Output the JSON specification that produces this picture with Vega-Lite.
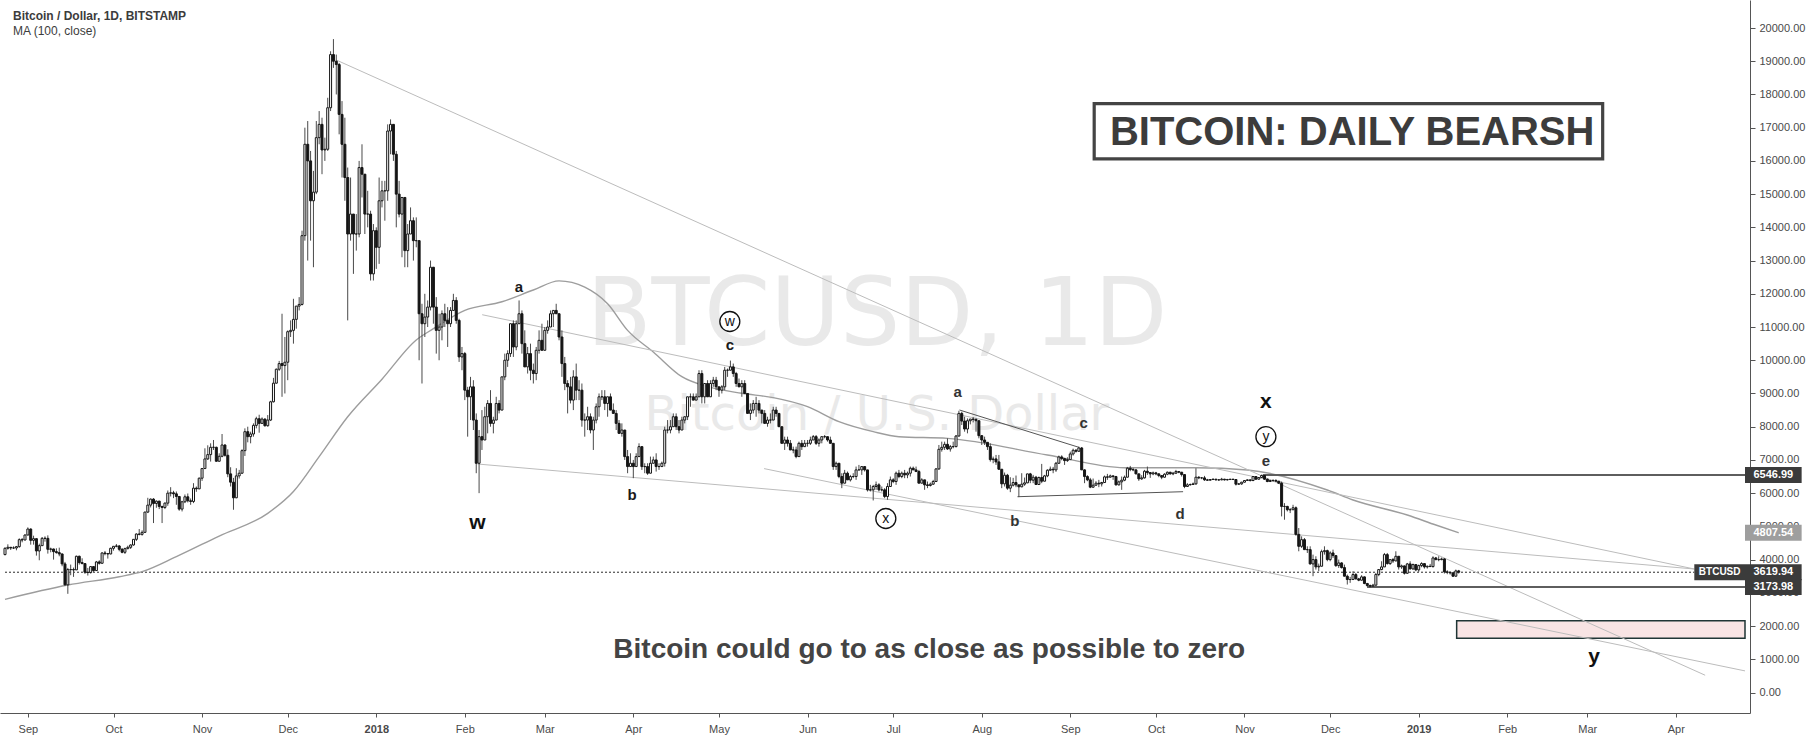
{
"$schema":"https://vega.github.io/schema/vega-lite/v6.json",
"width":1750,"height":713,
"autosize":{"type":"none"},
"padding":{"left":0,"top":0,"right":64,"bottom":26},
"background":"#ffffff",
"config":{"view":{"stroke":null},"font":"Liberation Sans",
 "axis":{"labelFont":"Liberation Sans","grid":false,"labelOverlap":false,"labelFlush":false,"domainColor":"#555555","tickColor":"#555555","labelColor":"#4a4a4a","labelFontSize":11},
 "axisX":{"tickSize":4,"labelPadding":6,"tickCount":"month","labelFontWeight":{"condition":{"test":"utcmonth(datum.value)==0","value":"bold"},"value":"normal"}},
 "axisY":{"tickSize":5,"labelPadding":4,"tickCount":21}},
"datasets":{
"candles":[
{"t":"2017-08-24","o":4150,"h":4370,"l":4130,"c":4340},
{"t":"2017-08-25","o":4340,"h":4460,"l":4300,"c":4370},
{"t":"2017-08-26","o":4370,"h":4380,"l":4290,"c":4350},
{"t":"2017-08-27","o":4350,"h":4400,"l":4320,"c":4350},
{"t":"2017-08-28","o":4350,"h":4410,"l":4280,"c":4390},
{"t":"2017-08-29","o":4390,"h":4640,"l":4360,"c":4600},
{"t":"2017-08-30","o":4600,"h":4650,"l":4520,"c":4590},
{"t":"2017-08-31","o":4590,"h":4760,"l":4580,"c":4740},
{"t":"2017-09-01","o":4740,"h":4970,"l":4730,"c":4920},
{"t":"2017-09-02","o":4920,"h":4940,"l":4450,"c":4580},
{"t":"2017-09-03","o":4580,"h":4720,"l":4450,"c":4630},
{"t":"2017-09-04","o":4630,"h":4630,"l":4120,"c":4260},
{"t":"2017-09-05","o":4260,"h":4480,"l":3980,"c":4420},
{"t":"2017-09-06","o":4420,"h":4680,"l":4420,"c":4640},
{"t":"2017-09-07","o":4640,"h":4700,"l":4540,"c":4640},
{"t":"2017-09-08","o":4640,"h":4730,"l":4180,"c":4310},
{"t":"2017-09-09","o":4310,"h":4360,"l":4220,"c":4320},
{"t":"2017-09-10","o":4320,"h":4330,"l":4000,"c":4240},
{"t":"2017-09-11","o":4240,"h":4340,"l":4180,"c":4210},
{"t":"2017-09-12","o":4210,"h":4360,"l":4100,"c":4170},
{"t":"2017-09-13","o":4170,"h":4180,"l":3800,"c":3870},
{"t":"2017-09-14","o":3870,"h":3930,"l":3220,"c":3240},
{"t":"2017-09-15","o":3240,"h":3750,"l":2970,"c":3700},
{"t":"2017-09-16","o":3700,"h":3850,"l":3530,"c":3700},
{"t":"2017-09-17","o":3700,"h":3760,"l":3480,"c":3690},
{"t":"2017-09-18","o":3690,"h":4120,"l":3690,"c":4100},
{"t":"2017-09-19","o":4100,"h":4120,"l":3850,"c":3910},
{"t":"2017-09-20","o":3910,"h":4040,"l":3860,"c":3880},
{"t":"2017-09-21","o":3880,"h":3890,"l":3570,"c":3620},
{"t":"2017-09-22","o":3620,"h":3750,"l":3520,"c":3610},
{"t":"2017-09-23","o":3610,"h":3800,"l":3580,"c":3790},
{"t":"2017-09-24","o":3790,"h":3800,"l":3630,"c":3670},
{"t":"2017-09-25","o":3670,"h":3960,"l":3660,"c":3930},
{"t":"2017-09-26","o":3930,"h":3980,"l":3850,"c":3890},
{"t":"2017-09-27","o":3890,"h":4220,"l":3880,"c":4200},
{"t":"2017-09-28","o":4200,"h":4260,"l":4130,"c":4180},
{"t":"2017-09-29","o":4180,"h":4200,"l":4030,"c":4170},
{"t":"2017-09-30","o":4170,"h":4360,"l":4160,"c":4340},
{"t":"2017-10-01","o":4340,"h":4410,"l":4270,"c":4400},
{"t":"2017-10-02","o":4400,"h":4470,"l":4370,"c":4410},
{"t":"2017-10-03","o":4410,"h":4440,"l":4250,"c":4310},
{"t":"2017-10-04","o":4310,"h":4350,"l":4190,"c":4220},
{"t":"2017-10-05","o":4220,"h":4360,"l":4170,"c":4330},
{"t":"2017-10-06","o":4330,"h":4420,"l":4310,"c":4370},
{"t":"2017-10-07","o":4370,"h":4460,"l":4320,"c":4440},
{"t":"2017-10-08","o":4440,"h":4620,"l":4420,"c":4610},
{"t":"2017-10-09","o":4610,"h":4790,"l":4560,"c":4770},
{"t":"2017-10-10","o":4770,"h":4920,"l":4730,"c":4760},
{"t":"2017-10-11","o":4760,"h":4880,"l":4720,"c":4820},
{"t":"2017-10-12","o":4820,"h":5440,"l":4810,"c":5430},
{"t":"2017-10-13","o":5430,"h":5860,"l":5400,"c":5640},
{"t":"2017-10-14","o":5640,"h":5840,"l":5570,"c":5820},
{"t":"2017-10-15","o":5820,"h":5850,"l":5100,"c":5690},
{"t":"2017-10-16","o":5690,"h":5780,"l":5560,"c":5760},
{"t":"2017-10-17","o":5760,"h":5770,"l":5520,"c":5600},
{"t":"2017-10-18","o":5600,"h":5620,"l":5100,"c":5570},
{"t":"2017-10-19","o":5570,"h":5720,"l":5520,"c":5700},
{"t":"2017-10-20","o":5700,"h":6080,"l":5620,"c":6000},
{"t":"2017-10-21","o":6000,"h":6180,"l":5900,"c":6010},
{"t":"2017-10-22","o":6010,"h":6070,"l":5850,"c":5980},
{"t":"2017-10-23","o":5980,"h":6050,"l":5650,"c":5900},
{"t":"2017-10-24","o":5900,"h":5910,"l":5470,"c":5520},
{"t":"2017-10-25","o":5520,"h":5770,"l":5450,"c":5740},
{"t":"2017-10-26","o":5740,"h":5960,"l":5700,"c":5890},
{"t":"2017-10-27","o":5890,"h":5990,"l":5720,"c":5770},
{"t":"2017-10-28","o":5770,"h":5840,"l":5650,"c":5750},
{"t":"2017-10-29","o":5750,"h":6300,"l":5700,"c":6150},
{"t":"2017-10-30","o":6150,"h":6200,"l":6040,"c":6130},
{"t":"2017-10-31","o":6130,"h":6470,"l":6120,"c":6450},
{"t":"2017-11-01","o":6450,"h":6750,"l":6370,"c":6740},
{"t":"2017-11-02","o":6740,"h":7350,"l":6740,"c":7030},
{"t":"2017-11-03","o":7030,"h":7440,"l":7000,"c":7160},
{"t":"2017-11-04","o":7160,"h":7500,"l":6950,"c":7380},
{"t":"2017-11-05","o":7380,"h":7600,"l":7300,"c":7380},
{"t":"2017-11-06","o":7380,"h":7400,"l":6950,"c":6960},
{"t":"2017-11-07","o":6960,"h":7200,"l":6950,"c":7110},
{"t":"2017-11-08","o":7110,"h":7780,"l":7080,"c":7450},
{"t":"2017-11-09","o":7450,"h":7470,"l":7100,"c":7140},
{"t":"2017-11-10","o":7140,"h":7320,"l":6480,"c":6580},
{"t":"2017-11-11","o":6580,"h":6780,"l":6200,"c":6330},
{"t":"2017-11-12","o":6330,"h":6460,"l":5500,"c":5860},
{"t":"2017-11-13","o":5860,"h":6750,"l":5850,"c":6520},
{"t":"2017-11-14","o":6520,"h":6700,"l":6440,"c":6600},
{"t":"2017-11-15","o":6600,"h":7320,"l":6590,"c":7280},
{"t":"2017-11-16","o":7280,"h":7950,"l":7120,"c":7850},
{"t":"2017-11-17","o":7850,"h":8000,"l":7530,"c":7700},
{"t":"2017-11-18","o":7700,"h":7850,"l":7500,"c":7780},
{"t":"2017-11-19","o":7780,"h":8100,"l":7700,"c":8040},
{"t":"2017-11-20","o":8040,"h":8300,"l":7950,"c":8240},
{"t":"2017-11-21","o":8240,"h":8360,"l":7820,"c":8100},
{"t":"2017-11-22","o":8100,"h":8280,"l":8090,"c":8230},
{"t":"2017-11-23","o":8230,"h":8250,"l":8000,"c":8030},
{"t":"2017-11-24","o":8030,"h":8350,"l":8000,"c":8200},
{"t":"2017-11-25","o":8200,"h":8780,"l":8170,"c":8750},
{"t":"2017-11-26","o":8750,"h":9470,"l":8730,"c":9310},
{"t":"2017-11-27","o":9310,"h":9750,"l":9300,"c":9730},
{"t":"2017-11-28","o":9730,"h":9980,"l":9680,"c":9900},
{"t":"2017-11-29","o":9900,"h":11400,"l":8900,"c":9840},
{"t":"2017-11-30","o":9840,"h":10700,"l":9000,"c":9940},
{"t":"2017-12-01","o":9940,"h":10900,"l":9400,"c":10860},
{"t":"2017-12-02","o":10860,"h":11200,"l":10700,"c":10900},
{"t":"2017-12-03","o":10900,"h":11850,"l":10500,"c":11230},
{"t":"2017-12-04","o":11230,"h":11600,"l":10950,"c":11630},
{"t":"2017-12-05","o":11630,"h":11900,"l":11500,"c":11680},
{"t":"2017-12-06","o":11680,"h":13900,"l":11650,"c":13750},
{"t":"2017-12-07","o":13750,"h":17000,"l":13600,"c":16500},
{"t":"2017-12-08","o":16500,"h":17200,"l":13000,"c":16000},
{"t":"2017-12-09","o":16000,"h":16300,"l":13600,"c":14800},
{"t":"2017-12-10","o":14800,"h":15700,"l":12800,"c":15060},
{"t":"2017-12-11","o":15060,"h":17200,"l":15000,"c":16700},
{"t":"2017-12-12","o":16700,"h":17500,"l":16500,"c":17100},
{"t":"2017-12-13","o":17100,"h":17300,"l":15600,"c":16330},
{"t":"2017-12-14","o":16330,"h":16700,"l":16000,"c":16350},
{"t":"2017-12-15","o":16350,"h":17900,"l":16300,"c":17600},
{"t":"2017-12-16","o":17600,"h":19300,"l":17500,"c":19200},
{"t":"2017-12-17","o":19200,"h":19666,"l":18800,"c":19000},
{"t":"2017-12-18","o":19000,"h":19200,"l":18000,"c":18900},
{"t":"2017-12-19","o":18900,"h":18950,"l":16800,"c":17400},
{"t":"2017-12-20","o":17400,"h":17800,"l":15500,"c":16500},
{"t":"2017-12-21","o":16500,"h":17300,"l":14800,"c":15500},
{"t":"2017-12-22","o":15500,"h":15800,"l":11200,"c":13800},
{"t":"2017-12-23","o":13800,"h":15500,"l":13600,"c":14400},
{"t":"2017-12-24","o":14400,"h":14400,"l":12600,"c":13800},
{"t":"2017-12-25","o":13800,"h":14400,"l":13300,"c":13800},
{"t":"2017-12-26","o":13800,"h":16000,"l":13700,"c":15800},
{"t":"2017-12-27","o":15800,"h":16500,"l":14900,"c":15600},
{"t":"2017-12-28","o":15600,"h":15600,"l":13800,"c":14400},
{"t":"2017-12-29","o":14400,"h":15100,"l":14000,"c":14400},
{"t":"2017-12-30","o":14400,"h":14500,"l":12400,"c":12600},
{"t":"2017-12-31","o":12600,"h":14100,"l":12400,"c":13900},
{"t":"2018-01-01","o":13900,"h":14000,"l":12750,"c":13400},
{"t":"2018-01-02","o":13400,"h":15500,"l":12900,"c":14800},
{"t":"2018-01-03","o":14800,"h":15400,"l":14600,"c":15100},
{"t":"2018-01-04","o":15100,"h":15400,"l":14200,"c":15100},
{"t":"2018-01-05","o":15100,"h":17100,"l":14800,"c":16900},
{"t":"2018-01-06","o":16900,"h":17250,"l":16200,"c":17100},
{"t":"2018-01-07","o":17100,"h":17100,"l":16000,"c":16200},
{"t":"2018-01-08","o":16200,"h":16300,"l":14000,"c":15000},
{"t":"2018-01-09","o":15000,"h":15400,"l":14300,"c":14400},
{"t":"2018-01-10","o":14400,"h":14900,"l":13100,"c":14900},
{"t":"2018-01-11","o":14900,"h":14900,"l":12800,"c":13300},
{"t":"2018-01-12","o":13300,"h":14100,"l":12800,"c":13800},
{"t":"2018-01-13","o":13800,"h":14600,"l":13800,"c":14200},
{"t":"2018-01-14","o":14200,"h":14300,"l":13000,"c":13600},
{"t":"2018-01-15","o":13600,"h":14300,"l":13400,"c":13600},
{"t":"2018-01-16","o":13600,"h":13600,"l":10000,"c":11400},
{"t":"2018-01-17","o":11400,"h":11700,"l":9300,"c":11100},
{"t":"2018-01-18","o":11100,"h":12000,"l":10700,"c":11300},
{"t":"2018-01-19","o":11300,"h":11800,"l":11000,"c":11600},
{"t":"2018-01-20","o":11600,"h":13000,"l":11500,"c":12800},
{"t":"2018-01-21","o":12800,"h":12800,"l":11100,"c":11600},
{"t":"2018-01-22","o":11600,"h":11900,"l":10200,"c":10900},
{"t":"2018-01-23","o":10900,"h":11400,"l":10000,"c":11000},
{"t":"2018-01-24","o":11000,"h":11500,"l":10600,"c":11400},
{"t":"2018-01-25","o":11400,"h":11700,"l":11000,"c":11200},
{"t":"2018-01-26","o":11200,"h":11600,"l":10400,"c":11100},
{"t":"2018-01-27","o":11100,"h":11600,"l":11000,"c":11500},
{"t":"2018-01-28","o":11500,"h":12000,"l":11500,"c":11800},
{"t":"2018-01-29","o":11800,"h":11900,"l":11100,"c":11200},
{"t":"2018-01-30","o":11200,"h":11250,"l":9950,"c":10100},
{"t":"2018-01-31","o":10100,"h":10400,"l":9700,"c":10200},
{"t":"2018-02-01","o":10200,"h":10250,"l":8800,"c":9100},
{"t":"2018-02-02","o":9100,"h":9200,"l":7700,"c":8900},
{"t":"2018-02-03","o":8900,"h":9500,"l":8200,"c":9200},
{"t":"2018-02-04","o":9200,"h":9400,"l":7900,"c":8200},
{"t":"2018-02-05","o":8200,"h":8400,"l":6600,"c":6900},
{"t":"2018-02-06","o":6900,"h":7900,"l":6000,"c":7700},
{"t":"2018-02-07","o":7700,"h":8500,"l":7300,"c":7600},
{"t":"2018-02-08","o":7600,"h":8600,"l":7600,"c":8300},
{"t":"2018-02-09","o":8300,"h":8800,"l":7800,"c":8700},
{"t":"2018-02-10","o":8700,"h":9100,"l":8000,"c":8100},
{"t":"2018-02-11","o":8100,"h":8300,"l":7800,"c":8200},
{"t":"2018-02-12","o":8200,"h":8900,"l":8200,"c":8700},
{"t":"2018-02-13","o":8700,"h":8800,"l":8400,"c":8500},
{"t":"2018-02-14","o":8500,"h":9500,"l":8500,"c":9500},
{"t":"2018-02-15","o":9500,"h":10200,"l":9400,"c":10000},
{"t":"2018-02-16","o":10000,"h":10300,"l":9800,"c":10200},
{"t":"2018-02-17","o":10200,"h":11100,"l":10100,"c":11100},
{"t":"2018-02-18","o":11100,"h":11200,"l":10100,"c":10400},
{"t":"2018-02-19","o":10400,"h":11200,"l":10300,"c":11100},
{"t":"2018-02-20","o":11100,"h":11800,"l":11100,"c":11400},
{"t":"2018-02-21","o":11400,"h":11500,"l":10200,"c":10500},
{"t":"2018-02-22","o":10500,"h":10900,"l":9800,"c":9800},
{"t":"2018-02-23","o":9800,"h":10400,"l":9600,"c":10200},
{"t":"2018-02-24","o":10200,"h":10500,"l":9400,"c":9700},
{"t":"2018-02-25","o":9700,"h":9900,"l":9300,"c":9600},
{"t":"2018-02-26","o":9600,"h":10400,"l":9400,"c":10300},
{"t":"2018-02-27","o":10300,"h":10900,"l":10200,"c":10600},
{"t":"2018-02-28","o":10600,"h":11100,"l":10300,"c":10300},
{"t":"2018-03-01","o":10300,"h":11000,"l":10300,"c":10900},
{"t":"2018-03-02","o":10900,"h":11200,"l":10800,"c":11000},
{"t":"2018-03-03","o":11000,"h":11500,"l":11000,"c":11400},
{"t":"2018-03-04","o":11400,"h":11500,"l":11000,"c":11500},
{"t":"2018-03-05","o":11500,"h":11700,"l":11400,"c":11400},
{"t":"2018-03-06","o":11400,"h":11400,"l":10600,"c":10700},
{"t":"2018-03-07","o":10700,"h":10900,"l":9500,"c":9900},
{"t":"2018-03-08","o":9900,"h":10100,"l":9100,"c":9300},
{"t":"2018-03-09","o":9300,"h":9400,"l":8400,"c":9200},
{"t":"2018-03-10","o":9200,"h":9500,"l":8700,"c":8800},
{"t":"2018-03-11","o":8800,"h":9700,"l":8500,"c":9500},
{"t":"2018-03-12","o":9500,"h":9900,"l":8800,"c":9100},
{"t":"2018-03-13","o":9100,"h":9400,"l":8800,"c":9100},
{"t":"2018-03-14","o":9100,"h":9300,"l":8000,"c":8200},
{"t":"2018-03-15","o":8200,"h":8400,"l":7700,"c":8200},
{"t":"2018-03-16","o":8200,"h":8600,"l":7900,"c":8300},
{"t":"2018-03-17","o":8300,"h":8400,"l":7800,"c":7900},
{"t":"2018-03-18","o":7900,"h":8300,"l":7300,"c":8200},
{"t":"2018-03-19","o":8200,"h":8700,"l":8100,"c":8600},
{"t":"2018-03-20","o":8600,"h":9000,"l":8300,"c":8900},
{"t":"2018-03-21","o":8900,"h":9100,"l":8800,"c":8900},
{"t":"2018-03-22","o":8900,"h":9100,"l":8500,"c":8700},
{"t":"2018-03-23","o":8700,"h":8900,"l":8300,"c":8900},
{"t":"2018-03-24","o":8900,"h":9000,"l":8500,"c":8500},
{"t":"2018-03-25","o":8500,"h":8700,"l":8400,"c":8400},
{"t":"2018-03-26","o":8400,"h":8500,"l":7900,"c":8100},
{"t":"2018-03-27","o":8100,"h":8200,"l":7800,"c":7800},
{"t":"2018-03-28","o":7800,"h":8100,"l":7700,"c":7900},
{"t":"2018-03-29","o":7900,"h":7900,"l":7000,"c":7100},
{"t":"2018-03-30","o":7100,"h":7300,"l":6600,"c":6800},
{"t":"2018-03-31","o":6800,"h":7200,"l":6800,"c":6900},
{"t":"2018-04-01","o":6900,"h":7000,"l":6450,"c":6800},
{"t":"2018-04-02","o":6800,"h":7200,"l":6800,"c":7100},
{"t":"2018-04-03","o":7100,"h":7500,"l":7100,"c":7400},
{"t":"2018-04-04","o":7400,"h":7400,"l":6700,"c":6800},
{"t":"2018-04-05","o":6800,"h":6900,"l":6600,"c":6800},
{"t":"2018-04-06","o":6800,"h":6900,"l":6550,"c":6600},
{"t":"2018-04-07","o":6600,"h":7100,"l":6600,"c":6900},
{"t":"2018-04-08","o":6900,"h":7100,"l":6900,"c":7000},
{"t":"2018-04-09","o":7000,"h":7200,"l":6650,"c":6800},
{"t":"2018-04-10","o":6800,"h":6900,"l":6700,"c":6800},
{"t":"2018-04-11","o":6800,"h":6950,"l":6800,"c":6900},
{"t":"2018-04-12","o":6900,"h":8000,"l":6800,"c":7900},
{"t":"2018-04-13","o":7900,"h":8200,"l":7800,"c":7900},
{"t":"2018-04-14","o":7900,"h":8200,"l":7800,"c":8000},
{"t":"2018-04-15","o":8000,"h":8400,"l":8000,"c":8300},
{"t":"2018-04-16","o":8300,"h":8400,"l":7900,"c":8000},
{"t":"2018-04-17","o":8000,"h":8200,"l":7800,"c":7900},
{"t":"2018-04-18","o":7900,"h":8300,"l":7900,"c":8200},
{"t":"2018-04-19","o":8200,"h":8300,"l":8100,"c":8300},
{"t":"2018-04-20","o":8300,"h":8900,"l":8200,"c":8900},
{"t":"2018-04-21","o":8900,"h":9000,"l":8600,"c":8900},
{"t":"2018-04-22","o":8900,"h":9000,"l":8800,"c":8800},
{"t":"2018-04-23","o":8800,"h":9000,"l":8800,"c":8900},
{"t":"2018-04-24","o":8900,"h":9700,"l":8900,"c":9600},
{"t":"2018-04-25","o":9600,"h":9700,"l":8700,"c":8900},
{"t":"2018-04-26","o":8900,"h":9300,"l":8700,"c":9300},
{"t":"2018-04-27","o":9300,"h":9400,"l":8900,"c":8900},
{"t":"2018-04-28","o":8900,"h":9400,"l":8900,"c":9300},
{"t":"2018-04-29","o":9300,"h":9500,"l":9200,"c":9400},
{"t":"2018-04-30","o":9400,"h":9500,"l":9100,"c":9200},
{"t":"2018-05-01","o":9200,"h":9200,"l":8900,"c":9100},
{"t":"2018-05-02","o":9100,"h":9250,"l":9000,"c":9200},
{"t":"2018-05-03","o":9200,"h":9800,"l":9100,"c":9700},
{"t":"2018-05-04","o":9700,"h":9750,"l":9500,"c":9700},
{"t":"2018-05-05","o":9700,"h":9990,"l":9700,"c":9800},
{"t":"2018-05-06","o":9800,"h":9900,"l":9500,"c":9600},
{"t":"2018-05-07","o":9600,"h":9650,"l":9200,"c":9300},
{"t":"2018-05-08","o":9300,"h":9450,"l":9200,"c":9200},
{"t":"2018-05-09","o":9200,"h":9400,"l":8900,"c":9300},
{"t":"2018-05-10","o":9300,"h":9400,"l":9000,"c":9000},
{"t":"2018-05-11","o":9000,"h":9000,"l":8400,"c":8400},
{"t":"2018-05-12","o":8400,"h":8700,"l":8200,"c":8500},
{"t":"2018-05-13","o":8500,"h":8800,"l":8400,"c":8700},
{"t":"2018-05-14","o":8700,"h":8900,"l":8300,"c":8700},
{"t":"2018-05-15","o":8700,"h":8800,"l":8400,"c":8500},
{"t":"2018-05-16","o":8500,"h":8500,"l":8100,"c":8400},
{"t":"2018-05-17","o":8400,"h":8500,"l":8100,"c":8100},
{"t":"2018-05-18","o":8100,"h":8300,"l":8000,"c":8200},
{"t":"2018-05-19","o":8200,"h":8400,"l":8100,"c":8200},
{"t":"2018-05-20","o":8200,"h":8600,"l":8200,"c":8500},
{"t":"2018-05-21","o":8500,"h":8600,"l":8300,"c":8400},
{"t":"2018-05-22","o":8400,"h":8400,"l":8000,"c":8000},
{"t":"2018-05-23","o":8000,"h":8000,"l":7500,"c":7500},
{"t":"2018-05-24","o":7500,"h":7700,"l":7300,"c":7600},
{"t":"2018-05-25","o":7600,"h":7700,"l":7400,"c":7500},
{"t":"2018-05-26","o":7500,"h":7600,"l":7300,"c":7300},
{"t":"2018-05-27","o":7300,"h":7400,"l":7200,"c":7300},
{"t":"2018-05-28","o":7300,"h":7400,"l":7050,"c":7100},
{"t":"2018-05-29","o":7100,"h":7550,"l":7100,"c":7500},
{"t":"2018-05-30","o":7500,"h":7600,"l":7300,"c":7400},
{"t":"2018-05-31","o":7400,"h":7600,"l":7400,"c":7500},
{"t":"2018-06-01","o":7500,"h":7600,"l":7400,"c":7500},
{"t":"2018-06-02","o":7500,"h":7700,"l":7450,"c":7600},
{"t":"2018-06-03","o":7600,"h":7750,"l":7600,"c":7700},
{"t":"2018-06-04","o":7700,"h":7750,"l":7450,"c":7500},
{"t":"2018-06-05","o":7500,"h":7650,"l":7400,"c":7600},
{"t":"2018-06-06","o":7600,"h":7700,"l":7500,"c":7700},
{"t":"2018-06-07","o":7700,"h":7750,"l":7650,"c":7700},
{"t":"2018-06-08","o":7700,"h":7700,"l":7550,"c":7600},
{"t":"2018-06-09","o":7600,"h":7700,"l":7500,"c":7500},
{"t":"2018-06-10","o":7500,"h":7500,"l":6700,"c":6800},
{"t":"2018-06-11","o":6800,"h":6950,"l":6700,"c":6900},
{"t":"2018-06-12","o":6900,"h":6900,"l":6450,"c":6500},
{"t":"2018-06-13","o":6500,"h":6600,"l":6150,"c":6300},
{"t":"2018-06-14","o":6300,"h":6700,"l":6300,"c":6600},
{"t":"2018-06-15","o":6600,"h":6650,"l":6400,"c":6400},
{"t":"2018-06-16","o":6400,"h":6550,"l":6350,"c":6500},
{"t":"2018-06-17","o":6500,"h":6600,"l":6450,"c":6500},
{"t":"2018-06-18","o":6500,"h":6800,"l":6400,"c":6700},
{"t":"2018-06-19","o":6700,"h":6850,"l":6700,"c":6700},
{"t":"2018-06-20","o":6700,"h":6800,"l":6550,"c":6800},
{"t":"2018-06-21","o":6800,"h":6800,"l":6650,"c":6700},
{"t":"2018-06-22","o":6700,"h":6700,"l":6050,"c":6100},
{"t":"2018-06-23","o":6100,"h":6250,"l":6050,"c":6100},
{"t":"2018-06-24","o":6100,"h":6250,"l":5780,"c":6200},
{"t":"2018-06-25","o":6200,"h":6350,"l":6100,"c":6250},
{"t":"2018-06-26","o":6250,"h":6300,"l":6050,"c":6100},
{"t":"2018-06-27","o":6100,"h":6200,"l":6050,"c":6100},
{"t":"2018-06-28","o":6100,"h":6150,"l":5850,"c":5900},
{"t":"2018-06-29","o":5900,"h":6300,"l":5800,"c":6200},
{"t":"2018-06-30","o":6200,"h":6500,"l":6200,"c":6400},
{"t":"2018-07-01","o":6400,"h":6450,"l":6300,"c":6350},
{"t":"2018-07-02","o":6350,"h":6650,"l":6250,"c":6600},
{"t":"2018-07-03","o":6600,"h":6700,"l":6450,"c":6500},
{"t":"2018-07-04","o":6500,"h":6650,"l":6450,"c":6600},
{"t":"2018-07-05","o":6600,"h":6700,"l":6450,"c":6550},
{"t":"2018-07-06","o":6550,"h":6650,"l":6450,"c":6600},
{"t":"2018-07-07","o":6600,"h":6800,"l":6500,"c":6750},
{"t":"2018-07-08","o":6750,"h":6800,"l":6700,"c":6700},
{"t":"2018-07-09","o":6700,"h":6800,"l":6650,"c":6650},
{"t":"2018-07-10","o":6650,"h":6700,"l":6300,"c":6300},
{"t":"2018-07-11","o":6300,"h":6450,"l":6300,"c":6400},
{"t":"2018-07-12","o":6400,"h":6400,"l":6100,"c":6250},
{"t":"2018-07-13","o":6250,"h":6350,"l":6150,"c":6230},
{"t":"2018-07-14","o":6230,"h":6320,"l":6200,"c":6270},
{"t":"2018-07-15","o":6270,"h":6400,"l":6250,"c":6350},
{"t":"2018-07-16","o":6350,"h":6750,"l":6350,"c":6730},
{"t":"2018-07-17","o":6730,"h":7450,"l":6700,"c":7320},
{"t":"2018-07-18","o":7320,"h":7550,"l":7250,"c":7380},
{"t":"2018-07-19","o":7380,"h":7550,"l":7300,"c":7470},
{"t":"2018-07-20","o":7470,"h":7650,"l":7300,"c":7330},
{"t":"2018-07-21","o":7330,"h":7450,"l":7250,"c":7400},
{"t":"2018-07-22","o":7400,"h":7550,"l":7350,"c":7400},
{"t":"2018-07-23","o":7400,"h":7750,"l":7380,"c":7720},
{"t":"2018-07-24","o":7720,"h":8480,"l":7700,"c":8400},
{"t":"2018-07-25","o":8400,"h":8450,"l":8050,"c":8170},
{"t":"2018-07-26","o":8170,"h":8300,"l":7850,"c":7930},
{"t":"2018-07-27","o":7930,"h":8250,"l":7800,"c":8180},
{"t":"2018-07-28","o":8180,"h":8230,"l":8070,"c":8230},
{"t":"2018-07-29","o":8230,"h":8290,"l":8130,"c":8220},
{"t":"2018-07-30","o":8220,"h":8250,"l":7850,"c":8180},
{"t":"2018-07-31","o":8180,"h":8180,"l":7650,"c":7730},
{"t":"2018-08-01","o":7730,"h":7750,"l":7450,"c":7600},
{"t":"2018-08-02","o":7600,"h":7700,"l":7450,"c":7530},
{"t":"2018-08-03","o":7530,"h":7530,"l":7300,"c":7400},
{"t":"2018-08-04","o":7400,"h":7500,"l":6950,"c":7010},
{"t":"2018-08-05","o":7010,"h":7100,"l":6900,"c":7030},
{"t":"2018-08-06","o":7030,"h":7150,"l":6850,"c":6940},
{"t":"2018-08-07","o":6940,"h":7150,"l":6700,"c":6720},
{"t":"2018-08-08","o":6720,"h":6720,"l":6150,"c":6280},
{"t":"2018-08-09","o":6280,"h":6620,"l":6200,"c":6540},
{"t":"2018-08-10","o":6540,"h":6580,"l":6100,"c":6150},
{"t":"2018-08-11","o":6150,"h":6480,"l":6030,"c":6240},
{"t":"2018-08-12","o":6240,"h":6460,"l":6200,"c":6320},
{"t":"2018-08-13","o":6320,"h":6530,"l":6180,"c":6250},
{"t":"2018-08-14","o":6250,"h":6250,"l":5880,"c":6190},
{"t":"2018-08-15","o":6190,"h":6600,"l":6180,"c":6270},
{"t":"2018-08-16","o":6270,"h":6470,"l":6220,"c":6310},
{"t":"2018-08-17","o":6310,"h":6580,"l":6300,"c":6580},
{"t":"2018-08-18","o":6580,"h":6610,"l":6300,"c":6390},
{"t":"2018-08-19","o":6390,"h":6550,"l":6300,"c":6480},
{"t":"2018-08-20","o":6480,"h":6520,"l":6250,"c":6260},
{"t":"2018-08-21","o":6260,"h":6500,"l":6260,"c":6470},
{"t":"2018-08-22","o":6470,"h":6880,"l":6300,"c":6360},
{"t":"2018-08-23","o":6360,"h":6550,"l":6360,"c":6520},
{"t":"2018-08-24","o":6520,"h":6720,"l":6480,"c":6690},
{"t":"2018-08-25","o":6690,"h":6800,"l":6670,"c":6720},
{"t":"2018-08-26","o":6720,"h":6790,"l":6600,"c":6700},
{"t":"2018-08-27","o":6700,"h":6940,"l":6640,"c":6900},
{"t":"2018-08-28","o":6900,"h":7130,"l":6880,"c":7090},
{"t":"2018-08-29","o":7090,"h":7140,"l":6990,"c":7040},
{"t":"2018-08-30","o":7040,"h":7060,"l":6850,"c":6980},
{"t":"2018-08-31","o":6980,"h":7080,"l":6940,"c":7010},
{"t":"2018-09-01","o":7010,"h":7250,"l":7000,"c":7180},
{"t":"2018-09-02","o":7180,"h":7340,"l":7130,"c":7290},
{"t":"2018-09-03","o":7290,"h":7330,"l":7220,"c":7260},
{"t":"2018-09-04","o":7260,"h":7400,"l":7250,"c":7360},
{"t":"2018-09-05","o":7360,"h":7390,"l":6700,"c":6700},
{"t":"2018-09-06","o":6700,"h":6720,"l":6300,"c":6500},
{"t":"2018-09-07","o":6500,"h":6540,"l":6360,"c":6400},
{"t":"2018-09-08","o":6400,"h":6460,"l":6150,"c":6180},
{"t":"2018-09-09","o":6180,"h":6440,"l":6160,"c":6240},
{"t":"2018-09-10","o":6240,"h":6360,"l":6220,"c":6300},
{"t":"2018-09-11","o":6300,"h":6400,"l":6180,"c":6280},
{"t":"2018-09-12","o":6280,"h":6340,"l":6200,"c":6320},
{"t":"2018-09-13","o":6320,"h":6530,"l":6320,"c":6490},
{"t":"2018-09-14","o":6490,"h":6580,"l":6400,"c":6480},
{"t":"2018-09-15","o":6480,"h":6560,"l":6470,"c":6520},
{"t":"2018-09-16","o":6520,"h":6530,"l":6400,"c":6500},
{"t":"2018-09-17","o":6500,"h":6520,"l":6230,"c":6250},
{"t":"2018-09-18","o":6250,"h":6380,"l":6230,"c":6340},
{"t":"2018-09-19","o":6340,"h":6500,"l":6100,"c":6390},
{"t":"2018-09-20","o":6390,"h":6530,"l":6360,"c":6480},
{"t":"2018-09-21","o":6480,"h":6790,"l":6480,"c":6750},
{"t":"2018-09-22","o":6750,"h":6820,"l":6660,"c":6710},
{"t":"2018-09-23","o":6710,"h":6760,"l":6660,"c":6700},
{"t":"2018-09-24","o":6700,"h":6720,"l":6570,"c":6580},
{"t":"2018-09-25","o":6580,"h":6590,"l":6370,"c":6430},
{"t":"2018-09-26","o":6430,"h":6540,"l":6400,"c":6460},
{"t":"2018-09-27","o":6460,"h":6700,"l":6440,"c":6660},
{"t":"2018-09-28","o":6660,"h":6800,"l":6550,"c":6620},
{"t":"2018-09-29","o":6620,"h":6630,"l":6460,"c":6580},
{"t":"2018-09-30","o":6580,"h":6650,"l":6540,"c":6610},
{"t":"2018-10-01","o":6610,"h":6640,"l":6540,"c":6580},
{"t":"2018-10-02","o":6580,"h":6600,"l":6480,"c":6530},
{"t":"2018-10-03","o":6530,"h":6540,"l":6420,"c":6480},
{"t":"2018-10-04","o":6480,"h":6600,"l":6470,"c":6570},
{"t":"2018-10-05","o":6570,"h":6650,"l":6540,"c":6630},
{"t":"2018-10-06","o":6630,"h":6640,"l":6560,"c":6580},
{"t":"2018-10-07","o":6580,"h":6640,"l":6540,"c":6600},
{"t":"2018-10-08","o":6600,"h":6700,"l":6580,"c":6650},
{"t":"2018-10-09","o":6650,"h":6660,"l":6600,"c":6630},
{"t":"2018-10-10","o":6630,"h":6640,"l":6500,"c":6560},
{"t":"2018-10-11","o":6560,"h":6570,"l":6150,"c":6200},
{"t":"2018-10-12","o":6200,"h":6300,"l":6190,"c":6250},
{"t":"2018-10-13","o":6250,"h":6290,"l":6230,"c":6260},
{"t":"2018-10-14","o":6260,"h":6320,"l":6250,"c":6280},
{"t":"2018-10-15","o":6280,"h":6750,"l":6250,"c":6480},
{"t":"2018-10-16","o":6480,"h":6510,"l":6420,"c":6460},
{"t":"2018-10-17","o":6460,"h":6480,"l":6420,"c":6460},
{"t":"2018-10-18","o":6460,"h":6520,"l":6370,"c":6400},
{"t":"2018-10-19","o":6400,"h":6430,"l":6370,"c":6390},
{"t":"2018-10-20","o":6390,"h":6420,"l":6380,"c":6410},
{"t":"2018-10-21","o":6410,"h":6440,"l":6400,"c":6420},
{"t":"2018-10-22","o":6420,"h":6430,"l":6380,"c":6400},
{"t":"2018-10-23","o":6400,"h":6420,"l":6370,"c":6400},
{"t":"2018-10-24","o":6400,"h":6460,"l":6390,"c":6420},
{"t":"2018-10-25","o":6420,"h":6430,"l":6380,"c":6400},
{"t":"2018-10-26","o":6400,"h":6430,"l":6380,"c":6410},
{"t":"2018-10-27","o":6410,"h":6430,"l":6400,"c":6420},
{"t":"2018-10-28","o":6420,"h":6430,"l":6400,"c":6410},
{"t":"2018-10-29","o":6410,"h":6420,"l":6230,"c":6270},
{"t":"2018-10-30","o":6270,"h":6300,"l":6250,"c":6280},
{"t":"2018-10-31","o":6280,"h":6340,"l":6250,"c":6330},
{"t":"2018-11-01","o":6330,"h":6390,"l":6320,"c":6380},
{"t":"2018-11-02","o":6380,"h":6420,"l":6370,"c":6400},
{"t":"2018-11-03","o":6400,"h":6410,"l":6350,"c":6380},
{"t":"2018-11-04","o":6380,"h":6500,"l":6360,"c":6500},
{"t":"2018-11-05","o":6500,"h":6510,"l":6400,"c":6420},
{"t":"2018-11-06","o":6420,"h":6480,"l":6410,"c":6470},
{"t":"2018-11-07","o":6470,"h":6560,"l":6460,"c":6530},
{"t":"2018-11-08","o":6530,"h":6540,"l":6400,"c":6420},
{"t":"2018-11-09","o":6420,"h":6440,"l":6330,"c":6350},
{"t":"2018-11-10","o":6350,"h":6400,"l":6340,"c":6380},
{"t":"2018-11-11","o":6380,"h":6420,"l":6340,"c":6380},
{"t":"2018-11-12","o":6380,"h":6420,"l":6350,"c":6360},
{"t":"2018-11-13","o":6360,"h":6370,"l":6280,"c":6300},
{"t":"2018-11-14","o":6300,"h":6350,"l":5300,"c":5600},
{"t":"2018-11-15","o":5600,"h":5700,"l":5200,"c":5600},
{"t":"2018-11-16","o":5600,"h":5620,"l":5450,"c":5500},
{"t":"2018-11-17","o":5500,"h":5550,"l":5400,"c":5500},
{"t":"2018-11-18","o":5500,"h":5650,"l":5500,"c":5560},
{"t":"2018-11-19","o":5560,"h":5600,"l":4720,"c":4760},
{"t":"2018-11-20","o":4760,"h":4950,"l":4250,"c":4400},
{"t":"2018-11-21","o":4400,"h":4700,"l":4350,"c":4600},
{"t":"2018-11-22","o":4600,"h":4650,"l":4300,"c":4300},
{"t":"2018-11-23","o":4300,"h":4400,"l":4200,"c":4300},
{"t":"2018-11-24","o":4300,"h":4400,"l":3850,"c":3870},
{"t":"2018-11-25","o":3870,"h":4150,"l":3500,"c":4000},
{"t":"2018-11-26","o":4000,"h":4100,"l":3700,"c":3780},
{"t":"2018-11-27","o":3780,"h":3880,"l":3650,"c":3800},
{"t":"2018-11-28","o":3800,"h":4300,"l":3800,"c":4240},
{"t":"2018-11-29","o":4240,"h":4400,"l":4150,"c":4270},
{"t":"2018-11-30","o":4270,"h":4300,"l":3950,"c":4000},
{"t":"2018-12-01","o":4000,"h":4250,"l":3950,"c":4200},
{"t":"2018-12-02","o":4200,"h":4300,"l":4050,"c":4120},
{"t":"2018-12-03","o":4120,"h":4130,"l":3780,"c":3820},
{"t":"2018-12-04","o":3820,"h":4000,"l":3750,"c":3900},
{"t":"2018-12-05","o":3900,"h":3920,"l":3730,"c":3760},
{"t":"2018-12-06","o":3760,"h":3850,"l":3500,"c":3500},
{"t":"2018-12-07","o":3500,"h":3550,"l":3250,"c":3400},
{"t":"2018-12-08","o":3400,"h":3480,"l":3300,"c":3400},
{"t":"2018-12-09","o":3400,"h":3650,"l":3390,"c":3550},
{"t":"2018-12-10","o":3550,"h":3600,"l":3400,"c":3420},
{"t":"2018-12-11","o":3420,"h":3450,"l":3350,"c":3380},
{"t":"2018-12-12","o":3380,"h":3530,"l":3370,"c":3480},
{"t":"2018-12-13","o":3480,"h":3490,"l":3260,"c":3280},
{"t":"2018-12-14","o":3280,"h":3300,"l":3180,"c":3220},
{"t":"2018-12-15","o":3220,"h":3250,"l":3150,"c":3200},
{"t":"2018-12-16","o":3200,"h":3270,"l":3190,"c":3230},
{"t":"2018-12-17","o":3230,"h":3600,"l":3220,"c":3550},
{"t":"2018-12-18","o":3550,"h":3700,"l":3500,"c":3700},
{"t":"2018-12-19","o":3700,"h":3950,"l":3680,"c":3780},
{"t":"2018-12-20","o":3780,"h":4200,"l":3780,"c":4150},
{"t":"2018-12-21","o":4150,"h":4200,"l":3850,"c":3880},
{"t":"2018-12-22","o":3880,"h":4000,"l":3840,"c":4000},
{"t":"2018-12-23","o":4000,"h":4050,"l":3900,"c":3960},
{"t":"2018-12-24","o":3960,"h":4250,"l":3950,"c":4100},
{"t":"2018-12-25","o":4100,"h":4100,"l":3700,"c":3780},
{"t":"2018-12-26","o":3780,"h":3850,"l":3720,"c":3810},
{"t":"2018-12-27","o":3810,"h":3820,"l":3550,"c":3590},
{"t":"2018-12-28","o":3590,"h":3900,"l":3570,"c":3870},
{"t":"2018-12-29","o":3870,"h":3950,"l":3700,"c":3720},
{"t":"2018-12-30","o":3720,"h":3880,"l":3690,"c":3850},
{"t":"2018-12-31","o":3850,"h":3860,"l":3650,"c":3690},
{"t":"2019-01-01","o":3690,"h":3850,"l":3630,"c":3820},
{"t":"2019-01-02","o":3820,"h":3920,"l":3770,"c":3880},
{"t":"2019-01-03","o":3880,"h":3880,"l":3730,"c":3780},
{"t":"2019-01-04","o":3780,"h":3820,"l":3730,"c":3800},
{"t":"2019-01-05","o":3800,"h":3870,"l":3780,"c":3790},
{"t":"2019-01-06","o":3790,"h":4100,"l":3760,"c":4050},
{"t":"2019-01-07","o":4050,"h":4080,"l":3980,"c":4000},
{"t":"2019-01-08","o":4000,"h":4100,"l":3950,"c":4000},
{"t":"2019-01-09","o":4000,"h":4060,"l":3980,"c":4020},
{"t":"2019-01-10","o":4020,"h":4040,"l":3580,"c":3630},
{"t":"2019-01-11","o":3630,"h":3680,"l":3560,"c":3620},
{"t":"2019-01-12","o":3620,"h":3630,"l":3550,"c":3600},
{"t":"2019-01-13","o":3600,"h":3620,"l":3480,"c":3500},
{"t":"2019-01-14","o":3500,"h":3700,"l":3490,"c":3660},
{"t":"2019-01-15","o":3660,"h":3690,"l":3580,"c":3620}
],
"ma":[
{"t":"2017-08-24","v":2805},{"t":"2017-09-15","v":3235},{"t":"2017-10-03","v":3485},{"t":"2017-10-11","v":3636},
{"t":"2017-10-23","v":4088},{"t":"2017-11-07","v":4710},{"t":"2017-11-24","v":5393},{"t":"2017-12-03","v":6050},
{"t":"2017-12-12","v":7100},{"t":"2017-12-22","v":8300},{"t":"2018-01-03","v":9430},{"t":"2018-01-15","v":10610},
{"t":"2018-01-21","v":10950},{"t":"2018-02-01","v":11500},{"t":"2018-02-14","v":11760},{"t":"2018-02-25","v":12114},
{"t":"2018-03-06","v":12390},{"t":"2018-03-15","v":12200},{"t":"2018-03-23","v":11700},{"t":"2018-03-30","v":10900},
{"t":"2018-04-08","v":10250},{"t":"2018-04-18","v":9505},{"t":"2018-04-27","v":9204},{"t":"2018-05-09","v":9005},
{"t":"2018-05-20","v":8874},{"t":"2018-06-01","v":8602},{"t":"2018-06-12","v":8151},{"t":"2018-06-24","v":7850},
{"t":"2018-07-03","v":7699},{"t":"2018-07-20","v":7650},{"t":"2018-08-24","v":7148},{"t":"2018-09-20","v":6766},
{"t":"2018-10-15","v":6766},{"t":"2018-11-02","v":6697},{"t":"2018-11-30","v":6095},{"t":"2018-12-09","v":5794},
{"t":"2018-12-28","v":5342},{"t":"2019-01-07","v":5041},{"t":"2019-01-15","v":4808}
],
"trend":[
{"set":"fan","t1":"2017-12-18T00:00Z","p1":19037,"t2":"2019-04-11T07:00Z","p2":520},
{"set":"fan","t1":"2018-02-07T02:00Z","p1":11371,"t2":"2019-04-07T12:00Z","p2":3717},
{"set":"fan","t1":"2018-02-05T10:00Z","p1":6877,"t2":"2019-04-07T12:00Z","p2":3717},
{"set":"fan","t1":"2018-05-16T19:00Z","p1":6739,"t2":"2019-04-25T06:00Z","p2":650},
{"set":"abc","t1":"2018-07-24T05:00Z","p1":8503,"t2":"2018-09-04T00:00Z","p2":7380},
{"set":"abc","t1":"2018-08-13T12:00Z","p1":5893,"t2":"2018-10-10T12:00Z","p2":6044}
],
"levels":[{"t":"2018-11-07T10:00Z","p":6546.99},{"t":"2018-12-13T22:00Z","p":3173.98}],
"labels":[
{"g":"s1","s":"a","t":"2018-02-19T22:00Z","p":12214},
{"g":"s1","s":"b","t":"2018-03-31T14:00Z","p":5944},
{"g":"s1","s":"c","t":"2018-05-04T19:00Z","p":10459},
{"g":"s2","s":"a","t":"2018-07-23T14:00Z","p":9035},
{"g":"s2","s":"c","t":"2018-09-05T17:00Z","p":8120},
{"g":"s2","s":"b","t":"2018-08-12T14:00Z","p":5162},
{"g":"s2","s":"d","t":"2018-10-09T10:00Z","p":5373},
{"g":"s2","s":"e","t":"2018-11-08T12:00Z","p":6968},
{"g":"big","s":"w","t":"2018-02-05T10:00Z","p":5102},
{"g":"big","s":"x","t":"2018-11-08T12:00Z","p":8752},
{"g":"big","s":"y","t":"2019-03-03T10:00Z","p":1060}
],
"circ":[
{"s":"w","t":"2018-05-04T19:00Z","p":11166},
{"s":"x","t":"2018-06-28T10:00Z","p":5237},
{"s":"y","t":"2018-11-08T12:00Z","p":7699}
],
"notes":[
{"id":"wm1","s":"BTCUSD, 1D","t":"2018-06-25T07:00Z","p":10459},
{"id":"wm2","s":"Bitcoin / U.S. Dollar","t":"2018-06-25T07:00Z","p":7900},
{"id":"title","s":"BITCOIN: DAILY BEARSH","t":"2018-12-08T17:00Z","p":16476},
{"id":"note","s":"Bitcoin could go to as close as possible to zero","t":"2018-07-13T14:00Z","p":1029},
{"id":"leg1","s":"Bitcoin / Dollar, 1D, BITSTAMP","t":"2017-08-26T19:00Z","p":20241},
{"id":"leg2","s":"MA (100, close)","t":"2017-08-26T19:00Z","p":19780}
],
"tags":[
{"p":6546.99,"s":"6546.99","k":"lvl"},
{"p":4807.54,"s":"4807.54","k":"ma"},
{"p":3619.94,"s":"3619.94","k":"lvl"},
{"p":3173.98,"s":"3173.98","k":"lvl"}
]
},
"layer":[
{"data":{"name":"notes"},"transform":[{"filter":"datum.id=='wm1'"}],
 "mark":{"type":"text","font":"DejaVu Sans","fontSize":95,"color":"#e9e9e9","align":"center","baseline":"alphabetic"},
 "encoding":{
  "x":{"field":"t","type":"temporal","scale":{"type":"utc","domain":[{"year":2017,"month":8,"date":24,"utc":true},{"year":2019,"month":4,"date":25,"hours":6,"utc":true}]},
   "axis":{"title":null,"orient":"bottom","grid":false,"domainColor":"#555555","tickColor":"#555555","tickSize":4,"labelColor":"#4a4a4a","labelFontSize":11,"labelPadding":6,"labelOverlap":false,"labelFlush":false,
    "values":[{"year":2017,"month":9,"date":1,"utc":true},{"year":2017,"month":10,"date":1,"utc":true},{"year":2017,"month":11,"date":1,"utc":true},{"year":2017,"month":12,"date":1,"utc":true},{"year":2018,"month":1,"date":1,"utc":true},{"year":2018,"month":2,"date":1,"utc":true},{"year":2018,"month":3,"date":1,"utc":true},{"year":2018,"month":4,"date":1,"utc":true},{"year":2018,"month":5,"date":1,"utc":true},{"year":2018,"month":6,"date":1,"utc":true},{"year":2018,"month":7,"date":1,"utc":true},{"year":2018,"month":8,"date":1,"utc":true},{"year":2018,"month":9,"date":1,"utc":true},{"year":2018,"month":10,"date":1,"utc":true},{"year":2018,"month":11,"date":1,"utc":true},{"year":2018,"month":12,"date":1,"utc":true},{"year":2019,"month":1,"date":1,"utc":true},{"year":2019,"month":2,"date":1,"utc":true},{"year":2019,"month":3,"date":1,"utc":true},{"year":2019,"month":4,"date":1,"utc":true}],
    "labelExpr":"utcmonth(datum.value)==0 ? utcFormat(datum.value,'%Y') : utcFormat(datum.value,'%b')"}},
  "y":{"field":"p","type":"quantitative","scale":{"domain":[-617,20843],"nice":false,"zero":false},
   "axis":{"title":null,"orient":"right","grid":false,"values":[0,1000,2000,3000,4000,5000,6000,7000,8000,9000,10000,11000,12000,13000,14000,15000,16000,17000,18000,19000,20000],"format":".2f","domainColor":"#555555","tickColor":"#555555","tickSize":5,"labelColor":"#4a4a4a","labelFontSize":11,"labelPadding":4,"labelOverlap":false,"labelFlush":false}},
  "text":{"field":"s"}}},
{"data":{"name":"notes"},"transform":[{"filter":"datum.id=='wm2'"}],
 "mark":{"type":"text","font":"DejaVu Sans","fontSize":48,"color":"#e9e9e9","align":"center","baseline":"alphabetic"},
 "encoding":{"x":{"field":"t","type":"temporal"},"y":{"field":"p","type":"quantitative"},"text":{"field":"s"}}},
{"data":{"values":[{"zone":"target"}]},
 "mark":{"type":"rect","fill":"#f8e4e4","stroke":"#1f3535","strokeWidth":1.5},
 "encoding":{"x":{"datum":{"year":2019,"month":1,"date":14,"hours":7,"utc":true},"type":"temporal"},
  "x2":{"datum":{"year":2019,"month":4,"date":25,"hours":6,"utc":true}},
  "y":{"datum":2161,"type":"quantitative"},"y2":{"datum":1631}}},
{"data":{"values":[{"last":3619.94}]},
 "mark":{"type":"rule","color":"#2a2a2a","strokeWidth":1,"strokeDash":[2,2]},
 "encoding":{"x":{"datum":{"year":2017,"month":8,"date":24,"utc":true},"type":"temporal"},
  "x2":{"datum":{"year":2019,"month":4,"date":7,"hours":12,"utc":true}},
  "y":{"field":"last","type":"quantitative"}}},
{"data":{"name":"ma"},
 "mark":{"type":"line","color":"#9d9d9d","strokeWidth":1.4,"interpolate":"monotone"},
 "encoding":{"x":{"field":"t","type":"temporal"},"y":{"field":"v","type":"quantitative"}}},
{"data":{"name":"trend"},"transform":[{"filter":"datum.set=='fan'"}],
 "mark":{"type":"rule","color":"#bcbcbc","strokeWidth":1},
 "encoding":{"x":{"field":"t1","type":"temporal"},"x2":{"field":"t2"},"y":{"field":"p1","type":"quantitative"},"y2":{"field":"p2"}}},
{"data":{"name":"trend"},"transform":[{"filter":"datum.set=='abc'"}],
 "mark":{"type":"rule","color":"#555555","strokeWidth":1},
 "encoding":{"x":{"field":"t1","type":"temporal"},"x2":{"field":"t2"},"y":{"field":"p1","type":"quantitative"},"y2":{"field":"p2"}}},
{"data":{"name":"levels"},
 "mark":{"type":"rule","color":"#5e5e5e","strokeWidth":2},
 "encoding":{"x":{"field":"t","type":"temporal"},"x2":{"datum":{"year":2019,"month":4,"date":25,"hours":6,"utc":true}},"y":{"field":"p","type":"quantitative"}}},
{"data":{"name":"candles"},
 "mark":{"type":"rule","color":"#4a4a4a","strokeWidth":1},
 "encoding":{"x":{"field":"t","type":"temporal"},"y":{"field":"l","type":"quantitative"},"y2":{"field":"h"}}},
{"data":{"name":"candles"},
 "mark":{"type":"bar","width":2,"stroke":"#151515","strokeWidth":1},
 "encoding":{"x":{"field":"t","type":"temporal"},"y":{"field":"o","type":"quantitative"},"y2":{"field":"c"},
  "fill":{"condition":{"test":"datum.c >= datum.o","value":"#ffffff"},"value":"#151515"}}},
{"data":{"name":"labels"},"transform":[{"filter":"datum.g=='s1'"}],
 "mark":{"type":"text","fontSize":15,"fontWeight":"bold","color":"#1a1a1a","align":"center","baseline":"middle"},
 "encoding":{"x":{"field":"t","type":"temporal"},"y":{"field":"p","type":"quantitative"},"text":{"field":"s"}}},
{"data":{"name":"labels"},"transform":[{"filter":"datum.g=='s2'"}],
 "mark":{"type":"text","fontSize":15,"fontWeight":"bold","color":"#333333","align":"center","baseline":"middle"},
 "encoding":{"x":{"field":"t","type":"temporal"},"y":{"field":"p","type":"quantitative"},"text":{"field":"s"}}},
{"data":{"name":"labels"},"transform":[{"filter":"datum.g=='big'"}],
 "mark":{"type":"text","fontSize":21,"fontWeight":"bold","color":"#111111","align":"center","baseline":"middle"},
 "encoding":{"x":{"field":"t","type":"temporal"},"y":{"field":"p","type":"quantitative"},"text":{"field":"s"}}},
{"data":{"name":"circ"},
 "mark":{"type":"point","shape":"circle","size":400,"filled":false,"stroke":"#111111","strokeWidth":1.3,"opacity":1},
 "encoding":{"x":{"field":"t","type":"temporal"},"y":{"field":"p","type":"quantitative"}}},
{"data":{"name":"circ"},
 "mark":{"type":"text","fontSize":14,"color":"#111111","align":"center","baseline":"middle"},
 "encoding":{"x":{"field":"t","type":"temporal"},"y":{"field":"p","type":"quantitative"},"text":{"field":"s"}}},
{"data":{"values":[{"box":"title"}]},
 "mark":{"type":"rect","fill":"#ffffff","stroke":"#444444","strokeWidth":3.2},
 "encoding":{"x":{"datum":{"year":2018,"month":9,"date":9,"hours":9,"utc":true},"type":"temporal"},
  "x2":{"datum":{"year":2019,"month":3,"date":6,"hours":10,"utc":true}},
  "y":{"datum":17727,"type":"quantitative"},"y2":{"datum":16060}}},
{"data":{"name":"notes"},"transform":[{"filter":"datum.id=='title'"}],
 "mark":{"type":"text","fontSize":40,"fontWeight":"bold","color":"#3c3c3c","align":"center","baseline":"alphabetic"},
 "encoding":{"x":{"field":"t","type":"temporal"},"y":{"field":"p","type":"quantitative"},"text":{"field":"s"}}},
{"data":{"name":"notes"},"transform":[{"filter":"datum.id=='note'"}],
 "mark":{"type":"text","fontSize":28,"fontWeight":"bold","color":"#444444","align":"center","baseline":"alphabetic"},
 "encoding":{"x":{"field":"t","type":"temporal"},"y":{"field":"p","type":"quantitative"},"text":{"field":"s"}}},
{"data":{"name":"notes"},"transform":[{"filter":"datum.id=='leg1'"}],
 "mark":{"type":"text","fontSize":12,"fontWeight":"bold","color":"#3c3c3c","align":"left","baseline":"alphabetic"},
 "encoding":{"x":{"field":"t","type":"temporal"},"y":{"field":"p","type":"quantitative"},"text":{"field":"s"}}},
{"data":{"name":"notes"},"transform":[{"filter":"datum.id=='leg2'"}],
 "mark":{"type":"text","fontSize":12,"color":"#3c3c3c","align":"left","baseline":"alphabetic"},
 "encoding":{"x":{"field":"t","type":"temporal"},"y":{"field":"p","type":"quantitative"},"text":{"field":"s"}}},
{"data":{"name":"tags"},
 "mark":{"type":"rule","strokeWidth":16,"strokeCap":"butt"},
 "encoding":{"x":{"datum":{"year":2019,"month":4,"date":25,"hours":6,"utc":true},"type":"temporal"},
  "x2":{"datum":{"year":2019,"month":5,"date":15,"hours":2,"utc":true}},
  "y":{"field":"p","type":"quantitative"},
  "color":{"field":"k","type":"nominal","scale":{"domain":["lvl","ma"],"range":["#3b3b3b","#9e9e9e"]},"legend":null}}},
{"data":{"name":"tags"},
 "mark":{"type":"text","fontSize":11,"fontWeight":"bold","color":"#ffffff","align":"center","baseline":"middle"},
 "encoding":{"x":{"datum":{"year":2019,"month":5,"date":5,"hours":4,"utc":true},"type":"temporal"},
  "y":{"field":"p","type":"quantitative"},"text":{"field":"s"}}},
{"data":{"values":[{"sym":"BTCUSD","p":3619.94}]},
 "mark":{"type":"rule","strokeWidth":16,"strokeCap":"butt","color":"#3b3b3b"},
 "encoding":{"x":{"datum":{"year":2019,"month":4,"date":7,"hours":12,"utc":true},"type":"temporal"},
  "x2":{"datum":{"year":2019,"month":4,"date":25,"hours":6,"utc":true}},
  "y":{"field":"p","type":"quantitative"}}},
{"data":{"values":[{"sym":"BTCUSD","p":3619.94}]},
 "mark":{"type":"text","fontSize":10,"fontWeight":"bold","color":"#ffffff","align":"center","baseline":"middle"},
 "encoding":{"x":{"datum":{"year":2019,"month":4,"date":16,"hours":9,"utc":true},"type":"temporal"},
  "y":{"field":"p","type":"quantitative"},"text":{"field":"sym"}}}
]
}
